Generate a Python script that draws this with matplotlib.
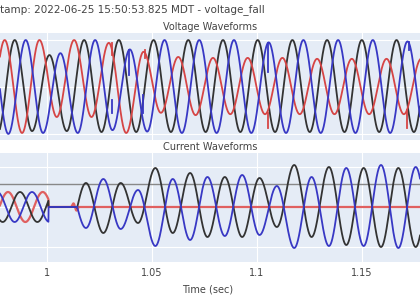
import numpy as np
import matplotlib
matplotlib.use("Agg")
import matplotlib.pyplot as plt

# waveform data: peak / trough values per half cycle
F_HZ = 60.5
HALF = 1.0 / (2 * F_HZ)

# voltages (per unit), first extreme time and successive half-cycle extremes
v_red_t0 = 0.96333
v_red = [1.0, -1.0, 1.0, -0.98, 1.0, -0.64, 1.0, -0.64, 0.94, -0.98, 0.75, -0.55,
         0.64, -0.6, 0.62, -0.58, 0.62, -0.58, 0.62, -0.58, 0.6, -0.58, 0.6, -0.58,
         0.6, -0.58, 0.6, -0.58]
v_blk_t0 = 0.96810
v_blk = [1.0, -1.0, 1.0, -0.94, 0.68, -0.94, 1.0, -0.96, 1.0, -0.96, 1.0, -0.96,
         1.0, -0.96, 1.0, -0.96, 1.0, -0.96, 1.0, -0.96, 1.0, -0.96, 1.0, -0.96,
         1.0, -0.96, 1.0, -0.96]
v_blu_t0 = 0.97333
v_blu = [1.0, -1.0, 1.0, -0.98, 0.72, -0.98, 1.0, -0.92, 0.8, -0.95, 1.0, -0.98,
         1.0, -0.98, 1.0, -0.98, 0.95, -0.98, 1.0, -0.98, 1.0, -0.98, 1.0, -0.98,
         0.97, -0.98, 1.0]

# voltage notches (time, from, to)
glitch_blu = [(1.03095, -0.28, -0.55), (1.03905, 0.78, 0.25), (1.04571, -0.17, -0.55),
              (1.10524, 0.94, 0.32), (1.17238, 0.95, 0.78)]
glitch_red = [(1.03095, 0.94, 0.68), (1.04667, 0.79, 0.62), (1.10524, -0.55, -0.87),
              (1.17143, -0.5, -0.87)]

# currents (kA) before the breaker opens
i_pre_end = 1.00071
i_red_pre_t0 = 0.96490
i_red_pre = [0.75, -0.75, 0.75, -0.75, 0.75, -0.75]
i_blk_pre_t0 = 0.97062
i_blk_pre = [0.75, -0.75, 0.75, -0.75, 0.75]
i_blu_pre_t0 = 0.97633
i_blu_pre = [0.75, -0.75, 0.75, -0.75, 0.75]

# fault current between black and blue phases
i_on = 1.01429
i_flt_t0 = 1.01029
i_blk = [-1.2, 1.2, -1.3, 1.2, -0.8, 1.95, -1.3, 1.7, -1.5, 1.5, -1.5, 1.45,
         -1.0, 2.1, -1.5, 2.0, -1.9, 1.95, -2.0, 1.95, -2.0, 2.0]
i_blu = [1.0, -1.05, 1.4, -1.1, 0.85, -1.95, 1.4, -1.65, 1.5, -1.45, 1.6, -1.4,
         1.05, -2.05, 1.5, -1.95, 1.95, -1.95, 2.1, -2.05, 2.0, -2.0]
blip_t = [1.01143, 1.01262, 1.01405, 1.01524]
blip_v = [0.0, 0.18, -0.18, 0.0]
i_ref = 1.15

x_ticks = [1.0, 1.05, 1.1, 1.15]
x_labels = ["1", "1.05", "1.1", "1.15"]

RED = "#d64545"
BLK = "#333333"
BLU = "#3838c4"
BG = "#e5ecf6"


def halfcos(t, tk, vk):
    out = np.full_like(t, np.nan)
    for i in range(len(tk) - 1):
        m = (t >= tk[i]) & (t <= tk[i + 1])
        ph = (t[m] - tk[i]) / (tk[i + 1] - tk[i])
        out[m] = (vk[i] + vk[i + 1]) / 2 + (vk[i] - vk[i + 1]) / 2 * np.cos(np.pi * ph)
    return out


def wave(t, t0, vals):
    tk = t0 + HALF * np.arange(len(vals))
    return halfcos(t, tk, vals)


t = np.linspace(0.975, 1.18, 5000)

fig = plt.figure(figsize=(4.2, 3.0), dpi=100)
ax_v = fig.add_axes([0, 0.5333, 1, 0.3567])
ax_i = fig.add_axes([0, 0.1267, 1, 0.3633])

for ax in (ax_v, ax_i):
    ax.set_facecolor(BG)
    for s in ax.spines.values():
        s.set_visible(False)
    ax.set_xlim(0.97762, 1.17762)
    ax.set_xticks(x_ticks)
    ax.grid(color="white", lw=0.8)
    ax.tick_params(length=0, labelleft=False)
    ax.set_axisbelow(True)

# voltage panel
ax_v.plot(t, wave(t, v_blk_t0, v_blk), color=BLK, lw=1.3)
ax_v.plot(t, wave(t, v_red_t0, v_red), color=RED, lw=1.3)
ax_v.plot(t, wave(t, v_blu_t0, v_blu), color=BLU, lw=1.3)
for tg, a, b in glitch_red:
    ax_v.plot([tg, tg], [a, b], color=RED, lw=1.3)
for tg, a, b in glitch_blu:
    ax_v.plot([tg, tg], [a, b], color=BLU, lw=1.3)
ax_v.set_ylim(-1.13, 1.15)
ax_v.set_yticks([-1, 0, 1])
ax_v.tick_params(labelbottom=False)

# current panel
pre = t <= i_pre_end
post = t >= i_on
red_i = np.where(pre, wave(t, i_red_pre_t0, i_red_pre), 0.0)
blip = halfcos(t, blip_t, blip_v)
red_i = np.where(np.isnan(blip), red_i, blip)
blk_i = np.where(pre, wave(t, i_blk_pre_t0, i_blk_pre),
                 np.where(post, wave(t, i_flt_t0, i_blk), 0.0))
blu_i = np.where(pre, wave(t, i_blu_pre_t0, i_blu_pre),
                 np.where(post, wave(t, i_flt_t0, i_blu), 0.0))

ax_i.axhline(i_ref, color="#888888", lw=1.0)
ax_i.plot(t, red_i, color="#e06060", lw=1.6)
ax_i.plot(t, blk_i, color=BLK, lw=1.3)
ax_i.plot(t, blu_i, color=BLU, lw=1.3)
ax_i.set_ylim(-2.75, 2.7)
ax_i.set_yticks([-2, 0, 2])
ax_i.set_xticklabels(x_labels)
ax_i.tick_params(axis="x", labelsize=7, labelcolor="#444444", pad=4)

fig.text(0.0, 1 - 10 / 300, "tamp: 2022-06-25 15:50:53.825 MDT - voltage_fall",
         ha="left", va="center", fontsize=7.5, color="#444444")
fig.text(0.5, 1 - 27 / 300, "Voltage Waveforms", ha="center", va="center",
         fontsize=7, color="#444444")
fig.text(0.5, 1 - 147 / 300, "Current Waveforms", ha="center", va="center",
         fontsize=7, color="#444444")
fig.text(0.495, 1 - 290 / 300, "Time (sec)", ha="center", va="center",
         fontsize=7, color="#444444")

fig.savefig("out.png", dpi=100)
